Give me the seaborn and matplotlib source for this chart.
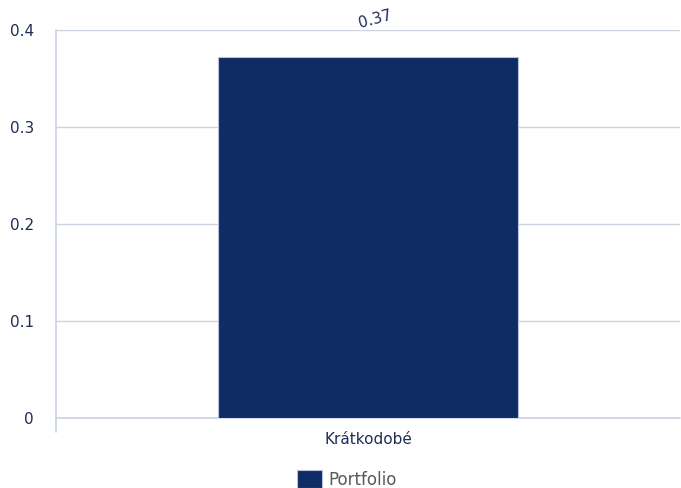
import seaborn as sns
import matplotlib.pyplot as plt
import pandas as pd

# chart data
categories = ['Krátkodobé']
series = ['Portfolio']
values = [0.372]
yticks = [0, 0.1, 0.2, 0.3, 0.4]
ytick_labels = ['0', '0.1', '0.2', '0.3', '0.4']

df = pd.DataFrame({'cat': categories, 'series': series, 'value': values})

sns.set_style('white')
plt.rcParams['font.family'] = ['DejaVu Sans']

navy = '#102C66'
grid = '#C9D3E3'
text = '#1F2D55'

fig = plt.figure(figsize=(6.81, 4.88), dpi=100)
ax = fig.add_axes([0.0822, 0.1434, 0.9163, 0.7951])

sns.barplot(data=df, x='cat', y='value', hue='series', palette=[navy],
            saturation=1, width=0.48, edgecolor='#B8C3D9', linewidth=0.8,
            ax=ax, zorder=3)

ax.set_ylim(0, 0.4)
ax.set_xlim(-0.5, 0.5)
ax.set_yticks(yticks)
ax.set_yticklabels(ytick_labels)
ax.grid(axis='y', color=grid, linewidth=1, zorder=0)
ax.set_axisbelow(True)
for s in ['top', 'right', 'bottom', 'left']:
    ax.spines[s].set_visible(False)
# left axis line runs a bit below zero, zero line drawn unclipped
ax.plot([0, 0], [-0.036, 1], transform=ax.transAxes, color=grid,
        linewidth=1.2, clip_on=False)
ax.axhline(0, color=grid, linewidth=1.2, clip_on=False, zorder=1)

ax.tick_params(axis='y', length=0, pad=16, labelsize=11, labelcolor=text)
ax.tick_params(axis='x', length=0, pad=10, labelsize=11, labelcolor=text)
ax.set_xlabel('')
ax.set_ylabel('')

# value label
for i, v in enumerate(values):
    ax.text(i + 0.012, 0.3995, f'{v:.2f}', ha='center', va='bottom', rotation=15,
            color=text, fontsize=11, clip_on=False)

leg = ax.legend(loc='upper center', bbox_to_anchor=(0.466, -0.095), frameon=False,
                handlelength=1.5, handleheight=1.3, handletextpad=0.4,
                fontsize=12)
for t in leg.get_texts():
    t.set_color('#595959')

plt.savefig('out.png', dpi=100)
